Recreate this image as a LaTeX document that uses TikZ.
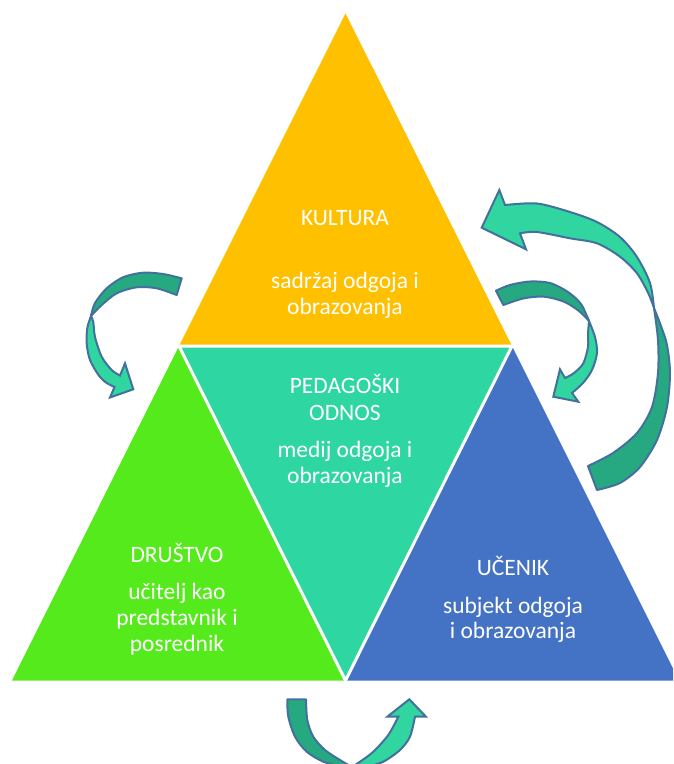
\documentclass[tikz,border=0pt]{standalone}
\usepackage{fontspec}
\setmainfont{Carlito}
\definecolor{kyellow}{HTML}{FFC000}
\definecolor{kteal}{HTML}{2ED6A1}
\definecolor{kgreen}{HTML}{55EA1B}
\definecolor{kblue}{HTML}{4472C4}
\definecolor{arrdarkc}{HTML}{26A981}
\definecolor{arrlightc}{HTML}{31D5A0}
\definecolor{arrline}{HTML}{41719C}
\tikzset{
  lbl/.style={text=white, inner sep=0pt, anchor=base, font=\fontsize{23.5}{26}\selectfont},
  arrdark/.style={fill=arrdarkc, draw=arrline, line width=2pt, line join=round},
  arrlight/.style={fill=arrlightc, draw=arrline, line width=2pt, line join=miter},
  gap/.style={draw=white, line width=3pt, line join=miter}
}
\begin{document}
\begin{tikzpicture}[x=1pt, y=-1pt]
\useasboundingbox (0,0) rectangle (673,764);
\clip (0,0) rectangle (673,764);
% corner coordinates
\coordinate (T) at (345.5,13.3);
\coordinate (BL) at (12,680.5);
\coordinate (BR) at (679,680.5);
\coordinate (ML) at (179,346);
\coordinate (MR) at (512,346);
\coordinate (BM) at (345.5,680.5);
% triangles
\fill[kyellow] (T) -- (MR) -- (ML) -- cycle;
\fill[kteal] (ML) -- (MR) -- (BM) -- cycle;
\fill[kgreen] (ML) -- (BM) -- (BL) -- cycle;
\fill[kblue] (MR) -- (BR) -- (BM) -- cycle;
\draw[gap] (ML) -- (MR) -- (BM) -- cycle;
% texts
\node[lbl] (k1) at (345,225) {KULTURA};
\node[lbl] (k2) at (345,288) {sadržaj odgoja i};
\node[lbl] (k3) at (345,314) {obrazovanja};
\node[lbl] (p1) at (345,393) {PEDAGOŠKI};
\node[lbl] (p2) at (345,420) {ODNOS};
\node[lbl] (p3) at (345,457) {medij odgoja i};
\node[lbl] (p4) at (345,483) {obrazovanja};
\node[lbl] (d1) at (177,562) {DRUŠTVO};
\node[lbl] (d2) at (177,599) {učitelj kao};
\node[lbl] (d3) at (177,625) {predstavnik i};
\node[lbl] (d4) at (177,651) {posrednik};
\node[lbl] (u1) at (513,575) {UČENIK};
\node[lbl] (u2) at (513,613) {subjekt odgoja};
\node[lbl] (u3) at (513,638) {i obrazovanja};
% arrow A (upper left)
\filldraw[arrdark] plot[smooth] coordinates {(181.7,278.3) (163,274) (143,272.7) (123,277.3) (106.7,288.3) (95,303) (91,316)}
  -- plot[smooth] coordinates {(91,316) (101.7,305) (116.7,293.3) (136.7,287.3) (156.7,288.3) (176.7,295)} -- cycle;
\filldraw[arrlight] plot[smooth] coordinates {(91,316) (87.3,328) (86.7,344) (90,360) (98.5,375) (106,382.5) (114.5,387)}
  -- (110,397.5) -- (133.3,389.3) -- (125,363.3)
  -- plot[smooth] coordinates {(120,375.5) (111.7,370) (101.7,356.7) (95,337) (93.3,322) (91,316)} -- cycle;
% arrow B (small right)
\filldraw[arrdark] plot[smooth] coordinates {(496,290.7) (510,285) (530,281.5) (550,283) (568,292) (581,304) (589,321)}
  -- plot[smooth] coordinates {(589,321) (579,311) (564,301.7) (544,296.7) (524,298.3) (503.3,305)} -- cycle;
\filldraw[arrlight] plot[smooth] coordinates {(589,321) (595,337) (597,353) (592,370) (583,383) (572,393)}
  -- (578.3,401.7) -- (553.3,396.7) -- (560,369.3)
  -- plot[smooth] coordinates {(565,378) (574,373) (583.3,363.3) (588,347) (588,334) (589,321)} -- cycle;
% arrow C (big right)
\filldraw[arrdark] plot[smooth] coordinates {(654,308) (661,326) (667,345) (670,373) (667,407) (657,440) (640,467) (620,483) (597,490)}
  -- plot[smooth] coordinates {(588,466) (613,453) (637,433) (652,407) (658,373) (658,340) (654,308)} -- cycle;
\filldraw[arrlight] plot[smooth] coordinates {(654,308) (650,283) (637,257) (620,237) (597,222) (570,212) (537,203.5) (505,205)}
  -- (499.3,190) -- (481.7,227.7) -- (526,249.3)
  -- plot[smooth] coordinates {(520,233.3) (537,232) (570,238.3) (597,243.3) (620,256.7) (637,273.3) (648.3,293.3) (654,308)} -- cycle;
% arrow D (bottom)
\filldraw[arrdark] plot[smooth] coordinates {(287.3,699.3) (288.3,716.7) (295,736.7) (306.7,751.7) (323.3,761.7) (340,766) (352,767)}
  -- plot[smooth] coordinates {(352,767) (340,760) (325,750) (313.3,736.7) (307.3,720) (306,699.3)} -- cycle;
\filldraw[arrlight] plot[smooth] coordinates {(352,767) (366.7,766.7) (383.3,761.7) (400,750) (410,736.7) (415,716.7)}
  -- (426,716.7) -- (409.3,699.3) -- (387.3,716.7)
  -- plot[smooth] coordinates {(398.3,716.7) (388.3,735) (373.3,751.7) (360,761.7) (352,767)} -- cycle;
\end{tikzpicture}
\end{document}
